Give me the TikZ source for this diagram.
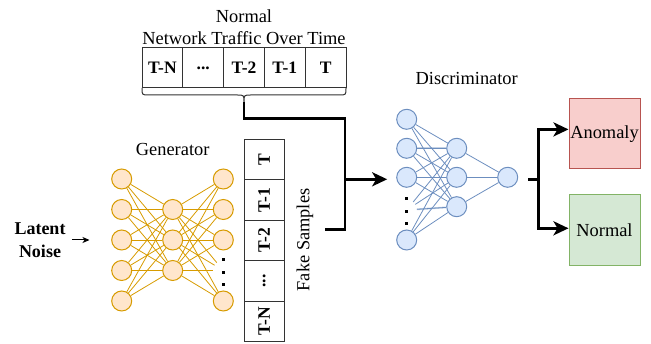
\documentclass[tikz,border=0pt]{standalone}
\usepackage{fontspec}
\setmainfont{Liberation Serif}
\usetikzlibrary{arrows.meta,calc}
\definecolor{gfill}{HTML}{FFE6CC}
\definecolor{gline}{HTML}{D79B00}
\definecolor{dfill}{HTML}{DAE8FC}
\definecolor{dline}{HTML}{6C8EBF}
\definecolor{afill}{HTML}{F8CECC}
\definecolor{aline}{HTML}{B85450}
\definecolor{nfill}{HTML}{D5E8D4}
\definecolor{nline}{HTML}{82B366}
\begin{document}
\begin{tikzpicture}[x=1pt,y=-1pt,
  txt/.style={font=\fontsize{18.4}{20}\selectfont, inner sep=0},
  btxt/.style={font=\fontsize{18}{22.7}\selectfont\bfseries, inner sep=0, align=center},
  cellbox/.style={draw=black!80, line width=1pt, minimum width=40.8pt, minimum height=40.3pt, inner sep=0, font=\fontsize{17.5}{20}\selectfont\bfseries},
  vcell/.style={cellbox, minimum width=40.5pt, minimum height=40.3pt, rotate=90},
  gnode/.style={circle, draw=gline, fill=gfill, minimum size=20pt, inner sep=0, line width=1pt},
  dnode/.style={circle, draw=dline, fill=dfill, minimum size=20pt, inner sep=0, line width=1pt},
  ghost/.style={circle, minimum size=20pt, inner sep=0},
  glink/.style={gline, line width=0.8pt},
  gwide/.style={gline!40, line width=1.8pt},
  dlink/.style={dline, line width=0.8pt},
  dwide/.style={dline!40, line width=1.8pt},
  dotsq/.style={fill=black, minimum size=3pt, inner sep=0},
  flow/.style={line width=2.8pt, line join=miter},
  flowarrow/.style={flow, -{Stealth[length=15pt,width=14pt,inset=4pt]}},
  thinarrow/.style={line width=1pt, -{Stealth[length=7pt,width=6pt,inset=2pt]}},
  outbox/.style={line width=1pt, minimum width=71pt, minimum height=70.5pt, inner sep=0, font=\fontsize{18.4}{20}\selectfont}
]
\useasboundingbox (0,0) rectangle (651,344);

% title
\node[txt] (title1) at (244,16) {Normal};
\node[txt] (title2) at (244,38.5) {Network Traffic Over Time};

% top cells
\node[cellbox] (c1) at (162.4,67.85) {T-N};
\node[cellbox] (c2) at (203.2,67.85) {...};
\node[cellbox] (c3) at (244.0,67.85) {T-2};
\node[cellbox] (c4) at (284.8,67.85) {T-1};
\node[cellbox] (c5) at (325.6,67.85) {T};

% brace
\draw[line width=1pt, black!80] (142,88) .. controls (142,95) .. (149,95) -- (237,95)
  .. controls (244,95) .. (244,102) .. controls (244,95) .. (251,95) -- (339,95)
  .. controls (346,95) .. (346,88);
\coordinate (bt) at (244,102);

% generator
\node[txt] (gen) at (172.7,150) {Generator};
\foreach \i/\y in {1/179,2/209.5,3/240,4/270.5,5/301}
  \node[gnode] (g1\i) at (121.7,\y) {};
\foreach \i/\y in {1/209.5,2/240,3/270.5}
  \node[gnode] (g2\i) at (172.7,\y) {};
\foreach \i/\y in {1/179,2/209.5,3/240,5/301}
  \node[gnode] (g3\i) at (223.3,\y) {};
\node[ghost] (g34) at (223.3,270.5) {};
\node[dotsq] (gd1) at (223.3,260) {};
\node[dotsq] (gd2) at (223.3,272.3) {};
\node[dotsq] (gd3) at (223.3,284.3) {};
\draw[gwide] (g12) -- (g21);
\draw[gwide] (g14) -- (g23);
\draw[gwide] (g21) -- (g32);
\draw[gwide] (g23) -- (g34);
\foreach \i in {1,...,5}
  \foreach \j in {1,2,3} {
    \draw[glink] (g1\i) -- (g2\j);
    \draw[glink] (g2\j) -- (g3\i);
  }

% latent noise
\node[btxt] (latent) at (40,240) {Latent\\Noise};
\draw[thinarrow, shorten <=6.2pt, shorten >=21.7pt] (latent) -- (g13);

% fake samples
\node[vcell] (f1) at (264.2,159.3) {T};
\node[vcell] (f2) at (264.2,199.8) {T-1};
\node[vcell] (f3) at (264.2,240.4) {T-2};
\node[vcell] (f4) at (264.2,280.9) {...};
\node[vcell] (f5) at (264.2,321.4) {T-N};
\node[txt, rotate=90] (fake) at (305,240) {Fake Samples};

% discriminator
\node[txt] (disc) at (466.7,78.3) {Discriminator};
\foreach \i/\y in {1/119.3,2/148.3,3/177.3,5/240}
  \node[dnode] (d1\i) at (406.7,\y) {};
\node[ghost] (d14) at (406.7,210) {};
\node[dotsq] (dd1) at (406.7,198.5) {};
\node[dotsq] (dd2) at (406.7,211.7) {};
\node[dotsq] (dd3) at (406.7,223.3) {};
\foreach \i/\y in {1/148.3,2/177.3,3/206.7}
  \node[dnode] (d2\i) at (456.7,\y) {};
\node[dnode] (d31) at (507.7,177.3) {};
\draw[dwide] (d12) -- (d21);
\draw[dwide] (d14) -- (d23);
\foreach \i in {1,...,5}
  \foreach \j in {1,2,3}
    \draw[dlink] (d1\i) -- (d2\j);
\foreach \j in {1,2,3}
  \draw[dlink] (d2\j) -- (d31);

% input flow
\coordinate (c1b) at (244,118.3);
\coordinate (j) at (345,179.3);
\coordinate (fsout) at (325,229.3);
\draw[flow] (bt) -- (c1b) -| (j);
\draw[flow] (fsout) -| (j);
\draw[flowarrow, shorten >=9pt] (j) -- (j -| d13.west);

% outputs
\node[outbox, draw=aline, fill=afill] (anom) at (604.5,133.7) {Anomaly};
\node[outbox, draw=nline, fill=nfill] (norm) at (604.5,230) {Normal};
\coordinate (o1) at (528,179.3);
\coordinate (oj) at (538.3,179.3);
\draw[flow] (o1) -- (oj);
\draw[flowarrow] (oj) |- ($(anom.west)+(0,-4.3)$);
\draw[flowarrow] (oj) |- ($(norm.west)+(0,-1.7)$);
\end{tikzpicture}
\end{document}
